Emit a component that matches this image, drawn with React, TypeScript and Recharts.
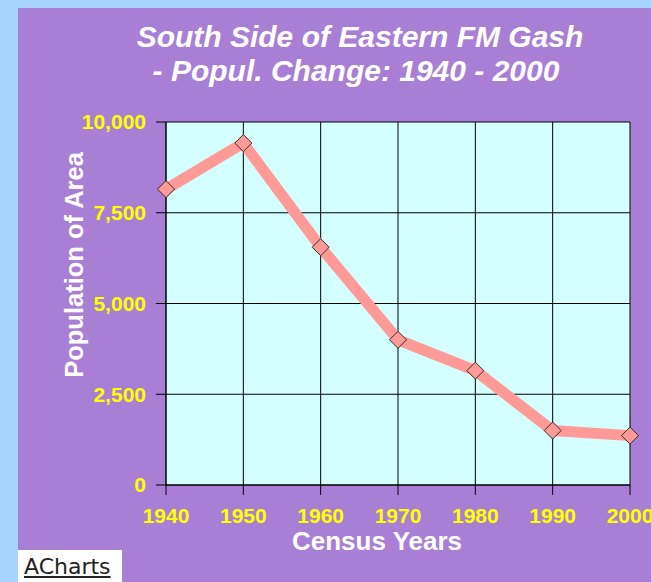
import React from 'react';
import { LineChart, Line, XAxis, YAxis, CartesianGrid } from 'recharts';

const years = [1940, 1950, 1960, 1970, 1980, 1990, 2000];
const population = [8150, 9420, 6550, 4000, 3150, 1500, 1360];
const yTicks = [0, 2500, 5000, 7500, 10000];

const data = years.map((year, i) => ({ year, population: population[i] }));

const PURPLE = '#a97fd5';
const SALMON = '#ff9a96';
const YELLOW = '#ffff00';

// diamond marker like the old excel-style charts
const Diamond = (props: any) => {
  const { cx, cy } = props;
  if (cx == null || cy == null) return null;
  const r = 8.5;
  return (
    <polygon
      points={`${cx},${cy - r} ${cx + r},${cy} ${cx},${cy + r} ${cx - r},${cy}`}
      fill={SALMON}
      stroke="#3a2a2a"
      strokeWidth={1}
    />
  );
};

const tickStyle = { fill: YELLOW, fontSize: 21, fontWeight: 'bold', fontFamily: 'Liberation Sans, Arial, sans-serif' };

const App: React.FC = () => {
  return (
    <div style={{ position: 'fixed', left: 0, top: 0, width: 651, height: 582, background: '#a6d4fd', overflow: 'hidden' }}>
      <div style={{ position: 'absolute', left: 18, top: 8, width: 633, height: 574, background: PURPLE }}>
        <LineChart width={633} height={574} data={data} margin={{ top: 114, right: 21, left: 0, bottom: 37 }}>
          <CartesianGrid fill="#d4ffff" stroke="#000" strokeOpacity={1} />
          <XAxis
            dataKey="year"
            type="number"
            domain={[1940, 2000]}
            ticks={years}
            height={60}
            tickSize={10}
            tickMargin={13}
            stroke="#000"
            tick={tickStyle}
            interval={0}
          />
          <YAxis
            type="number"
            domain={[0, 10000]}
            ticks={yTicks}
            width={148}
            tickSize={10}
            tickMargin={10}
            stroke="#000"
            tick={tickStyle}
            tickFormatter={(v: number) => v.toLocaleString('en-US')}
          />
          <Line
            dataKey="population"
            stroke={SALMON}
            strokeWidth={11}
            strokeLinejoin="round"
            dot={<Diamond />}
            activeDot={false}
            isAnimationActive={false}
          />
        </LineChart>
        <svg
          width={633}
          height={574}
          style={{ position: 'absolute', left: 0, top: 0, pointerEvents: 'none' }}
          fontFamily="Liberation Sans, Arial, sans-serif"
          fontWeight="bold"
          fill="#fff"
        >
          <text x={342} y={39} textAnchor="middle" fontSize={30} fontStyle="italic">
            South Side of Eastern FM Gash
          </text>
          <text x={338} y={73} textAnchor="middle" fontSize={30} fontStyle="italic">
            - Popul. Change: 1940 - 2000
          </text>
          <text x={359} y={542} textAnchor="middle" fontSize={26}>
            Census Years
          </text>
          <text x={65} y={257} textAnchor="middle" fontSize={25.5} transform="rotate(-90 65 257)">
            Population of Area
          </text>
        </svg>
        <div
          style={{
            position: 'absolute',
            left: 0,
            top: 542,
            width: 104,
            height: 32,
            background: '#fff',
            fontFamily: 'DejaVu Sans, sans-serif',
            fontSize: 22,
            color: '#222',
            textDecoration: 'underline',
            lineHeight: '34px',
            paddingLeft: 6,
            boxSizing: 'border-box',
            whiteSpace: 'nowrap',
            overflow: 'hidden',
          }}
        >
          ACharts
        </div>
      </div>
    </div>
  );
};

export default App;
